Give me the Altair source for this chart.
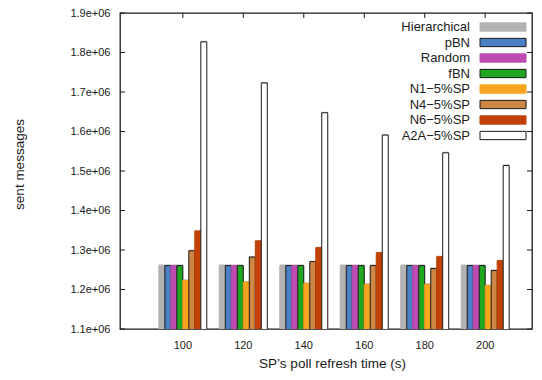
import altair as alt
import pandas as pd

categories = ["100", "120", "140", "160", "180", "200"]
series = ["Hierarchical", "pBN", "Random", "fBN",
          "N1−5%SP", "N4−5%SP", "N6−5%SP", "A2A−5%SP"]
fills = ["#b3b3b3", "#4c80c4", "#bd4bb1", "#1fa81f",
         "#f7a41f", "#cf8745", "#c14204", "#ffffff"]
strokes = ["#b3b3b3", "#1a1a1a", "#bd4bb1", "#1a1a1a",
           "#f7a41f", "#1a1a1a", "#c14204", "#1a1a1a"]

hierarchical = [1260500, 1260500, 1260500, 1260500, 1260500, 1260500]
pbn = [1260500, 1260500, 1260500, 1260500, 1260500, 1260500]
random_ = [1260500, 1260500, 1260500, 1260500, 1260500, 1260500]
fbn = [1260500, 1260500, 1260500, 1260500, 1260500, 1260500]
n1 = [1223000, 1219000, 1215500, 1213000, 1213000, 1210000]
n4 = [1298000, 1282000, 1270500, 1260500, 1253000, 1248000]
n6 = [1348000, 1323000, 1306000, 1293000, 1283000, 1273000]
a2a = [1827000, 1723000, 1647500, 1591000, 1546000, 1514000]

y_ticks = [1100000, 1200000, 1300000, 1400000, 1500000,
           1600000, 1700000, 1800000, 1900000]

values = [hierarchical, pbn, random_, fbn, n1, n4, n6, a2a]
rows = []
for s, vals in zip(series, values):
    for c, v in zip(categories, vals):
        rows.append({"cat": c, "series": s, "value": v})
df = pd.DataFrame(rows)

FONT = "Liberation Sans"

xscale = alt.Scale(domain=categories, paddingInner=0.207,
                   paddingOuter=0.51, align=0.63)
yscale = alt.Scale(domain=[1100000, 1900000], zero=False, nice=False)
offscale = alt.Scale(domain=series, paddingInner=0, paddingOuter=0)

# wide flat swatch drawn to the right of its layout slot, so labels sit at its left
SWATCH = "M3.3,-0.83L12.5,-0.83L12.5,0.83L3.3,0.83Z"


def x_axis():
    return alt.Axis(title="SP’s poll refresh time (s)", labelAngle=0,
                    ticks=False, domain=False, labelPadding=10,
                    labelFontSize=11, titleFontSize=13.5,
                    titleFontWeight="normal", titleX=212, titleY=27,
                    titleBaseline="top")


def y_axis():
    return alt.Axis(title="sent messages", values=y_ticks,
                    labelExpr="format(datum.value / 1000000, '.1f') + 'e+06'",
                    ticks=False, domain=False, grid=False, labelPadding=10,
                    labelFontSize=11, titleFontSize=13.5,
                    titleFontWeight="normal", titleX=-94, titleY=151)


def make_legend():
    return alt.Legend(
        title=None, orient="none", legendX=337, legendY=7.5,
        symbolType=SWATCH,
        symbolSize=100, symbolStrokeWidth=1,
        labelAlign="right", labelOffset=0, symbolOffset=0,
        rowPadding=1.5, labelFontSize=13,
        labelFont=FONT, padding=0)


base = alt.Chart(df)

shadow = base.mark_bar(color="#777777", opacity=0.55, xOffset=1.5,
                       x2Offset=1.5, yOffset=-1, clip=True).encode(
    x=alt.X("cat:N", sort=categories, scale=xscale, axis=x_axis()),
    xOffset=alt.XOffset("series:N", sort=series, scale=offscale),
    y=alt.Y("value:Q", scale=yscale, axis=y_axis()),
)

bars = base.mark_bar(strokeWidth=1, clip=True).encode(
    x=alt.X("cat:N", sort=categories, scale=xscale, axis=x_axis()),
    xOffset=alt.XOffset("series:N", sort=series, scale=offscale),
    y=alt.Y("value:Q", scale=yscale, axis=y_axis()),
    color=alt.Color("series:N", sort=series,
                    scale=alt.Scale(domain=series, range=fills),
                    legend=make_legend()),
    stroke=alt.Stroke("series:N", sort=series,
                      scale=alt.Scale(domain=series, range=strokes),
                      legend=make_legend()),
)

ytick_df = pd.DataFrame({"value": y_ticks})
left_ticks = alt.Chart(ytick_df).mark_rule(color="#1a1a1a", strokeWidth=1).encode(
    y=alt.Y("value:Q", scale=yscale, axis=y_axis()),
    x=alt.value(0), x2=alt.value(5),
)
right_ticks = alt.Chart(ytick_df).mark_rule(color="#1a1a1a", strokeWidth=1).encode(
    y=alt.Y("value:Q", scale=yscale, axis=y_axis()),
    x=alt.value(407), x2=alt.value(412),
)
xtick_df = pd.DataFrame({"cat": categories})
top_ticks = alt.Chart(xtick_df).mark_rule(color="#1a1a1a", strokeWidth=1).encode(
    x=alt.X("cat:N", sort=categories, scale=xscale, axis=x_axis()),
    y=alt.value(0), y2=alt.value(5),
)

chart = alt.layer(shadow, bars, left_ticks, right_ticks, top_ticks).properties(
    width=412, height=316,
    autosize=alt.AutoSizeParams(type="none"),
    padding={"left": 112, "top": 5, "right": 2, "bottom": 51},
).configure(
    font=FONT, background="white",
).configure_view(
    stroke="#1a1a1a", strokeWidth=1.3,
).configure_axis(
    labelColor="#1a1a1a", titleColor="#1a1a1a", labelFont=FONT, titleFont=FONT,
).configure_legend(
    labelColor="#1a1a1a",
)

chart.save("out.html", embed_options={"renderer": "svg", "actions": False})
